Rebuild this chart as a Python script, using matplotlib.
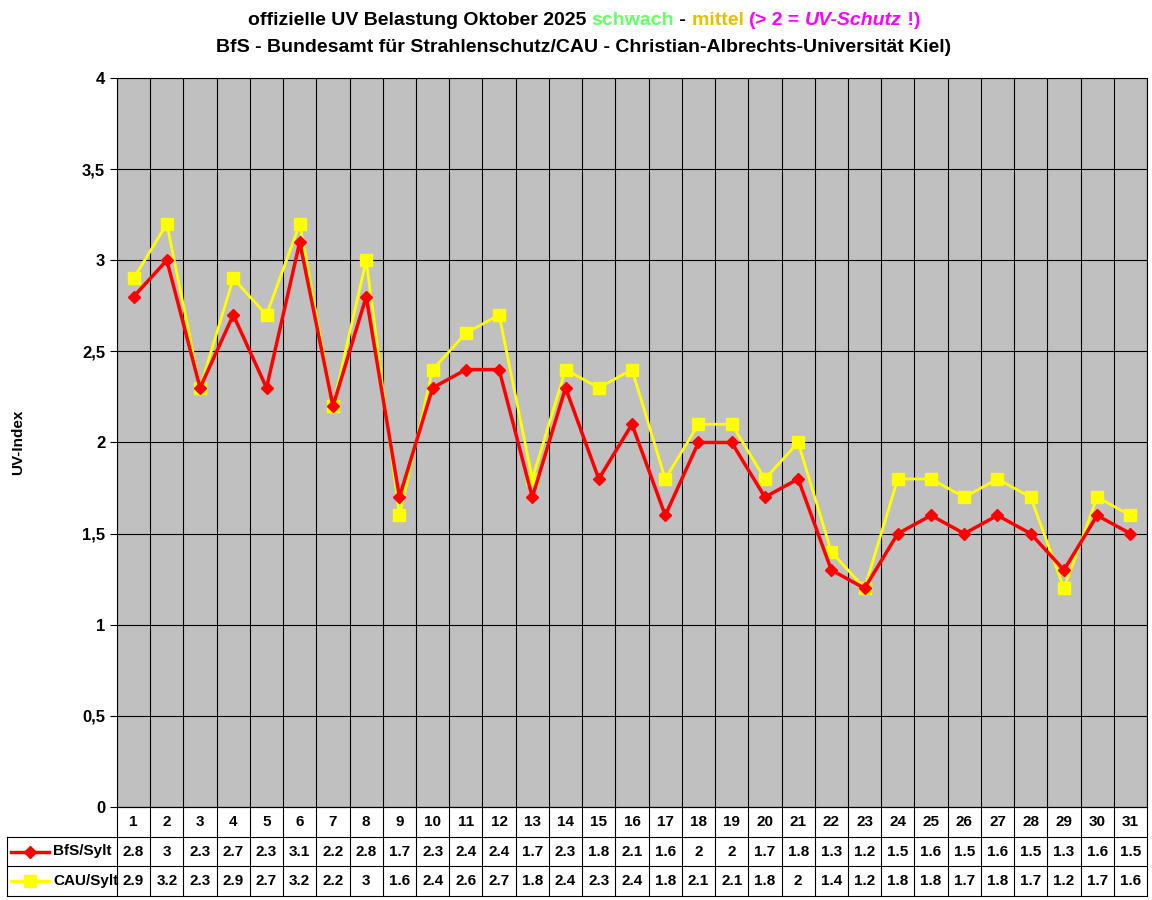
import matplotlib
matplotlib.use("Agg")
import matplotlib.pyplot as plt
from matplotlib.offsetbox import TextArea, HPacker, VPacker, AnchoredOffsetbox
import numpy as np

plt.rcParams["font.family"] = ["Liberation Sans", "DejaVu Sans"]
plt.rcParams["font.weight"] = "bold"

days = list(range(1, 32))
bfs = [2.8, 3, 2.3, 2.7, 2.3, 3.1, 2.2, 2.8, 1.7, 2.3, 2.4, 2.4, 1.7, 2.3, 1.8, 2.1,
       1.6, 2, 2, 1.7, 1.8, 1.3, 1.2, 1.5, 1.6, 1.5, 1.6, 1.5, 1.3, 1.6, 1.5]
cau = [2.9, 3.2, 2.3, 2.9, 2.7, 3.2, 2.2, 3, 1.6, 2.4, 2.6, 2.7, 1.8, 2.4, 2.3, 2.4,
       1.8, 2.1, 2.1, 1.8, 2, 1.4, 1.2, 1.8, 1.8, 1.7, 1.8, 1.7, 1.2, 1.7, 1.6]
series_names = ["BfS/Sylt", "CAU/Sylt"]
yticks = [0, 0.5, 1, 1.5, 2, 2.5, 3, 3.5, 4]
ytick_labels = ["0", "0,5", "1", "1,5", "2", "2,5", "3", "3,5", "4"]

W, H = 1152, 900
fig = plt.figure(figsize=(W / 100, H / 100), dpi=100)
L, R, T, B = 117, 1147, 78, 807
ax = fig.add_axes([L / W, 1 - B / H, (R - L) / W, (B - T) / H])
ax.set_facecolor("#c0c0c0")
x = np.arange(len(days))
ax.set_xlim(-0.5, len(days) - 0.5)
ax.set_ylim(0, 4)
for i in range(len(days) + 1):
    ax.axvline(i - 0.5, color="black", lw=0.8)
for yv in yticks:
    ax.axhline(yv, color="black", lw=0.8)
ax.plot(x, cau, color="#ffff00", lw=2, marker="s", ms=8, zorder=3)
ax.plot(x, bfs, color="#ff0000", lw=2.5, marker="D", ms=6, zorder=4)
ax.set_xticks([])
ax.set_yticks(yticks)
ax.set_yticklabels(ytick_labels, fontsize=12, fontweight="bold")
ax.tick_params(axis="y", length=5, width=0.8, direction="out")
for s in ax.spines.values():
    s.set_linewidth(0.8)
fig.text(18 / W, 1 - 442 / H, "UV-Index", rotation=90, ha="center", va="center",
         fontsize=11, fontweight="bold")

# table below the plot
colw = (R - L) / len(days)
TL, TB = 7, 896
tax = fig.add_axes([TL / W, 1 - TB / H, (R - TL) / W, (TB - B) / H])
tax.set_xlim(-0.5 - (L - TL) / colw, len(days) - 0.5)
tax.set_ylim(0, 3)
tax.axis("off")
lab_left = -0.5 - (L - TL) / colw
kw = dict(color="black", lw=0.8, clip_on=False)
tax.plot([-0.5, len(days) - 0.5], [3, 3], **kw)
for yy in [0, 1, 2]:
    tax.plot([lab_left, len(days) - 0.5], [yy, yy], **kw)
tax.plot([lab_left, lab_left], [0, 2], **kw)
for i in range(len(days) + 1):
    tax.plot([i - 0.5, i - 0.5], [0, 3], **kw)
for i, d in enumerate(days):
    tax.text(i, 2.5, str(d), ha="center", va="center", fontsize=11, fontweight="bold")
    tax.text(i, 1.5, f"{bfs[i]:g}", ha="center", va="center", fontsize=11, fontweight="bold")
    tax.text(i, 0.5, f"{cau[i]:g}", ha="center", va="center", fontsize=11, fontweight="bold")
lx0, lx1 = lab_left + 4 / colw, lab_left + 42 / colw
lxm = (lx0 + lx1) / 2
tax.plot([lx0, lx1], [1.5, 1.5], color="#ff0000", lw=2.5, clip_on=False)
tax.plot([lxm], [1.5], color="#ff0000", marker="D", ms=6, clip_on=False)
tax.plot([lx0, lx1], [0.5, 0.5], color="#ffff00", lw=2.5, clip_on=False)
tax.plot([lxm], [0.5], color="#ffff00", marker="s", ms=8, clip_on=False)
tax.text(lab_left + 46 / colw, 1.5, series_names[0], ha="left", va="center", fontsize=11, fontweight="bold")
tax.text(lab_left + 46 / colw, 0.5, series_names[1], ha="left", va="center", fontsize=11, fontweight="bold")

# title with coloured parts
fs = 14
def ta(s, c, style="normal"):
    return TextArea(s, textprops=dict(color=c, fontsize=fs, fontweight="bold", fontstyle=style))
line1 = HPacker(children=[ta("offizielle UV Belastung Oktober 2025 ", "black"),
                          ta("schwach", "#66ff66"), ta(" - ", "black"),
                          ta("mittel ", "#e6c000"), ta("(", "#ff00ff"),
                          ta("> 2 = ", "#ff00ff"), ta("UV-Schutz", "#ff00ff", "italic"),
                          ta(" !)", "#ff00ff")], pad=0, sep=0)
line2 = HPacker(children=[ta("BfS - Bundesamt für Strahlenschutz/CAU - Christian-Albrechts-Universität Kiel)", "black")],
                pad=0, sep=0)
box = VPacker(children=[line1, line2], align="center", pad=0, sep=7)
anch = AnchoredOffsetbox(loc="upper center", child=box, frameon=False,
                         bbox_to_anchor=(584 / W, 1 - 12 / H), bbox_transform=fig.transFigure,
                         borderpad=0, pad=0)
fig.add_artist(anch)

fig.savefig("out.png", dpi=100, facecolor="white")
